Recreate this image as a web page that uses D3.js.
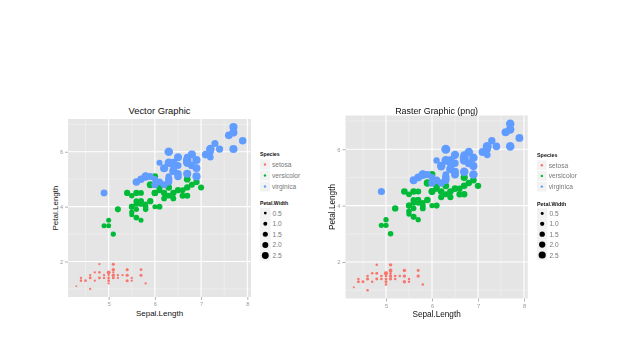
<!DOCTYPE html>
<html><head><meta charset="utf-8">
<script src="https://cdn.jsdelivr.net/npm/d3@7"></script>
<style>body{margin:0;background:#fff;} text{font-family:"Liberation Sans",Arial,sans-serif;}</style>
</head><body><svg id="c" width="638" height="359"></svg>
<script>
const speciesNames = ["setosa", "versicolor", "virginica"];
const speciesColors = ["#F8766D", "#00BA38", "#619CFF"];
const sizeBreaks = [0.5, 1.0, 1.5, 2.0, 2.5];
const xTicks = [5, 6, 7, 8];
const yTicks = [2, 4, 6];

const setosaSepalLength = [5.1,4.9,4.7,4.6,5.0,5.4,4.6,5.0,4.4,4.9,5.4,4.8,4.8,4.3,5.8,5.7,5.4,5.1,5.7,5.1,5.4,5.1,4.6,5.1,4.8,5.0,5.0,5.2,5.2,4.7,4.8,5.4,5.2,5.5,4.9,5.0,5.5,4.9,4.4,5.1,5.0,4.5,4.4,5.0,5.1,4.8,5.1,4.6,5.3,5.0];
const setosaPetalLength = [1.4,1.4,1.3,1.5,1.4,1.7,1.4,1.5,1.4,1.5,1.5,1.6,1.4,1.1,1.2,1.5,1.3,1.4,1.7,1.5,1.7,1.5,1.0,1.7,1.9,1.6,1.6,1.5,1.4,1.6,1.6,1.5,1.5,1.4,1.5,1.2,1.3,1.4,1.3,1.5,1.3,1.3,1.3,1.6,1.9,1.4,1.6,1.4,1.5,1.4];
const setosaPetalWidth = [0.2,0.2,0.2,0.2,0.2,0.4,0.3,0.2,0.2,0.1,0.2,0.2,0.1,0.1,0.2,0.4,0.4,0.3,0.3,0.3,0.2,0.4,0.2,0.5,0.2,0.2,0.4,0.2,0.2,0.2,0.2,0.4,0.1,0.2,0.2,0.2,0.2,0.1,0.2,0.2,0.3,0.3,0.2,0.6,0.4,0.3,0.2,0.2,0.2,0.2];

const versicolorSepalLength = [7.0,6.4,6.9,5.5,6.5,5.7,6.3,4.9,6.6,5.2,5.0,5.9,6.0,6.1,5.6,6.7,5.6,5.8,6.2,5.6,5.9,6.1,6.3,6.1,6.4,6.6,6.8,6.7,6.0,5.7,5.5,5.5,5.8,6.0,5.4,6.0,6.7,6.3,5.6,5.5,5.5,6.1,5.8,5.0,5.6,5.7,5.7,6.2,5.1,5.7];
const versicolorPetalLength = [4.7,4.5,4.9,4.0,4.6,4.5,4.7,3.3,4.6,3.9,3.5,4.2,4.0,4.7,3.6,4.4,4.5,4.1,4.5,3.9,4.8,4.0,4.9,4.7,4.3,4.4,4.8,5.0,4.5,3.5,3.8,3.7,3.9,5.1,4.5,4.5,4.7,4.4,4.1,4.0,4.4,4.6,4.0,3.3,4.2,4.2,4.2,4.3,3.0,4.1];
const versicolorPetalWidth = [1.4,1.5,1.5,1.3,1.5,1.3,1.6,1.0,1.3,1.4,1.0,1.5,1.0,1.4,1.3,1.4,1.5,1.0,1.5,1.1,1.8,1.3,1.5,1.2,1.3,1.4,1.4,1.7,1.5,1.0,1.1,1.0,1.2,1.6,1.5,1.6,1.5,1.3,1.3,1.3,1.2,1.4,1.2,1.0,1.3,1.2,1.3,1.3,1.1,1.3];

const virginicaSepalLength = [6.3,5.8,7.1,6.3,6.5,7.6,4.9,7.3,6.7,7.2,6.5,6.4,6.8,5.7,5.8,6.4,6.5,7.7,7.7,6.0,6.9,5.6,7.7,6.3,6.7,7.2,6.2,6.1,6.4,7.2,7.4,7.9,6.4,6.3,6.1,7.7,6.3,6.4,6.0,6.9,6.7,6.9,5.8,6.8,6.7,6.7,6.3,6.5,6.2,5.9];
const virginicaPetalLength = [6.0,5.1,5.9,5.6,5.8,6.6,4.5,6.3,5.8,6.1,5.1,5.3,5.5,5.0,5.1,5.3,5.5,6.7,6.9,5.0,5.7,4.9,6.7,4.9,5.7,6.0,4.8,4.9,5.6,5.8,6.1,6.4,5.6,5.1,5.6,6.1,5.6,5.5,4.8,5.4,5.6,5.1,5.1,5.9,5.7,5.2,5.0,5.2,5.4,5.1];
const virginicaPetalWidth = [2.5,1.9,2.1,1.8,2.2,2.1,1.7,1.8,1.8,2.5,2.0,1.9,2.1,2.0,2.4,2.3,1.8,2.2,2.3,1.5,2.3,2.0,2.0,1.8,2.1,1.8,1.8,1.8,2.1,1.6,1.9,2.0,2.2,1.5,1.4,2.3,2.4,1.8,1.8,2.1,2.4,2.3,1.9,2.3,2.5,2.3,1.9,2.0,2.3,1.8];

const sepalLengthBySpecies = [setosaSepalLength, versicolorSepalLength, virginicaSepalLength];
const petalLengthBySpecies = [setosaPetalLength, versicolorPetalLength, virginicaPetalLength];
const petalWidthBySpecies = [setosaPetalWidth, versicolorPetalWidth, virginicaPetalWidth];

const rows = [];
speciesNames.forEach((s, i) => {
  sepalLengthBySpecies[i].forEach((v, j) => rows.push({
    species: s, sl: v, pl: petalLengthBySpecies[i][j], pw: petalWidthBySpecies[i][j]
  }));
});

const svg = d3.select("#c");
const defs = svg.append("defs");
defs.append("filter").attr("id", "blur").attr("x", "-5%").attr("y", "-5%").attr("width", "110%").attr("height", "110%")
  .append("feGaussianBlur").attr("stdDeviation", 0.45);

function drawPanel(cfg) {
  const g = svg.append("g");
  if (cfg.blur) g.attr("filter", "url(#blur)");
  const x = d3.scaleLinear().domain([4.12, 8.08]).range([cfg.left, cfg.right]);
  const y = d3.scaleLinear().domain([0.705, 7.195]).range([cfg.bottom, cfg.top]);
  const r = d3.scalePow().exponent(0.7).domain([0.1, 2.5]).range([cfg.rMin, cfg.rMax]);
  const color = d3.scaleOrdinal().domain(speciesNames).range(speciesColors);

  g.append("rect").attr("x", cfg.left).attr("y", cfg.top)
    .attr("width", cfg.right - cfg.left).attr("height", cfg.bottom - cfg.top).attr("fill", "#E5E5E5");
  const xMinor = [4.5, 5.5, 6.5, 7.5];
  const yMinor = [1, 3, 5, 7];
  g.selectAll(".xm").data(xMinor).join("line").attr("x1", d => x(d)).attr("x2", d => x(d))
    .attr("y1", cfg.top).attr("y2", cfg.bottom).attr("stroke", "#F2F2F2").attr("stroke-width", 0.6);
  g.selectAll(".ym").data(yMinor).join("line").attr("y1", d => y(d)).attr("y2", d => y(d))
    .attr("x1", cfg.left).attr("x2", cfg.right).attr("stroke", "#F2F2F2").attr("stroke-width", 0.6);
  g.selectAll(".xM").data(xTicks).join("line").attr("x1", d => x(d)).attr("x2", d => x(d))
    .attr("y1", cfg.top).attr("y2", cfg.bottom).attr("stroke", "#fff").attr("stroke-width", 1.1);
  g.selectAll(".yM").data(yTicks).join("line").attr("y1", d => y(d)).attr("y2", d => y(d))
    .attr("x1", cfg.left).attr("x2", cfg.right).attr("stroke", "#fff").attr("stroke-width", 1.1);

  g.append("g").selectAll("circle").data(rows).join("circle")
    .attr("cx", d => x(d.sl)).attr("cy", d => y(d.pl)).attr("r", d => r(d.pw))
    .attr("fill", d => color(d.species));

  const xAxis = g.append("g").attr("transform", `translate(0,${cfg.bottom})`)
    .call(d3.axisBottom(x).tickValues(xTicks).tickSize(3).tickPadding(2).tickFormat(d3.format("d")));
  const yAxis = g.append("g").attr("transform", `translate(${cfg.left},0)`)
    .call(d3.axisLeft(y).tickValues(yTicks).tickSize(3).tickPadding(2).tickFormat(d3.format("d")));
  [xAxis, yAxis].forEach(a => {
    a.select(".domain").remove();
    a.selectAll(".tick line").attr("stroke", "#7F7F7F").attr("stroke-width", 0.6);
    a.selectAll(".tick text").attr("fill", "#9a9a9a").attr("font-size", cfg.tickFont)
      .attr("font-family", "Liberation Sans, Arial, sans-serif");
  });

  const cx = (cfg.left + cfg.right) / 2;
  const cy = (cfg.top + cfg.bottom) / 2;
  g.append("text").attr("x", cx).attr("y", cfg.titleY).attr("text-anchor", "middle")
    .attr("font-size", cfg.titleFont).attr("fill", "#111").text(cfg.title);
  g.append("text").attr("x", cx).attr("y", cfg.xTitleY).attr("text-anchor", "middle")
    .attr("font-size", cfg.axisFont).attr("fill", "#111").text("Sepal.Length");
  g.append("text").attr("transform", `translate(${cfg.yTitleX},${cy}) rotate(-90)`).attr("text-anchor", "middle")
    .attr("font-size", cfg.axisFont).attr("fill", "#111").text("Petal.Length");

  const L = cfg.legend;
  g.append("text").attr("x", L.x).attr("y", L.speciesY).attr("font-size", L.titleFont)
    .attr("font-weight", "bold").attr("fill", "#111").text("Species");
  speciesNames.forEach((s, i) => {
    const yy = L.speciesY + L.gap * (i + 1);
    g.append("rect").attr("x", L.x).attr("y", yy - L.gap / 2 - 2).attr("width", L.gap - 1).attr("height", L.gap - 1).attr("fill", "#F2F2F2");
    g.append("circle").attr("cx", L.x + (L.gap - 1) / 2).attr("cy", yy - 2.5).attr("r", 1.2).attr("fill", color(s));
    g.append("text").attr("x", L.x + L.gap + 1).attr("y", yy).attr("font-size", L.labelFont).attr("fill", "#777").text(s);
  });
  g.append("text").attr("x", L.x).attr("y", L.sizeY).attr("font-size", L.titleFont)
    .attr("font-weight", "bold").attr("fill", "#111").text("Petal.Width");
  sizeBreaks.forEach((b, i) => {
    const yy = L.sizeY + L.sizeGap * (i + 1);
    g.append("rect").attr("x", L.x).attr("y", yy - L.sizeGap / 2 - 2.5).attr("width", L.sizeGap).attr("height", L.sizeGap).attr("fill", "#F2F2F2");
    g.append("circle").attr("cx", L.x + L.sizeGap / 2).attr("cy", yy - 2.5).attr("r", r(b) * 0.8).attr("fill", "#000");
    g.append("text").attr("x", L.x + L.sizeGap + 2).attr("y", yy).attr("font-size", L.labelFont).attr("fill", "#777").text(d3.format(".1f")(b));
  });
}

drawPanel({
  left: 68, right: 251, top: 119, bottom: 297, rMin: 0.9, rMax: 4.3,
  title: "Vector Graphic", titleY: 114, titleFont: 9.4, axisFont: 8, tickFont: 5.5,
  xTitleY: 316, yTitleX: 58,
  legend: {x: 260, speciesY: 156, sizeY: 205, gap: 11, sizeGap: 10.6, titleFont: 5.2, labelFont: 6.6}
});
drawPanel({
  left: 345.5, right: 527.7, top: 115.5, bottom: 298.5, rMin: 1.0, rMax: 4.5, blur: true,
  title: "Raster Graphic (png)", titleY: 114, titleFont: 8.9, axisFont: 8.2, tickFont: 5.8,
  xTitleY: 317, yTitleX: 335,
  legend: {x: 537, speciesY: 157, sizeY: 205.5, gap: 10.7, sizeGap: 10.4, titleFont: 5.4, labelFont: 6.6}
});
</script></body></html>
